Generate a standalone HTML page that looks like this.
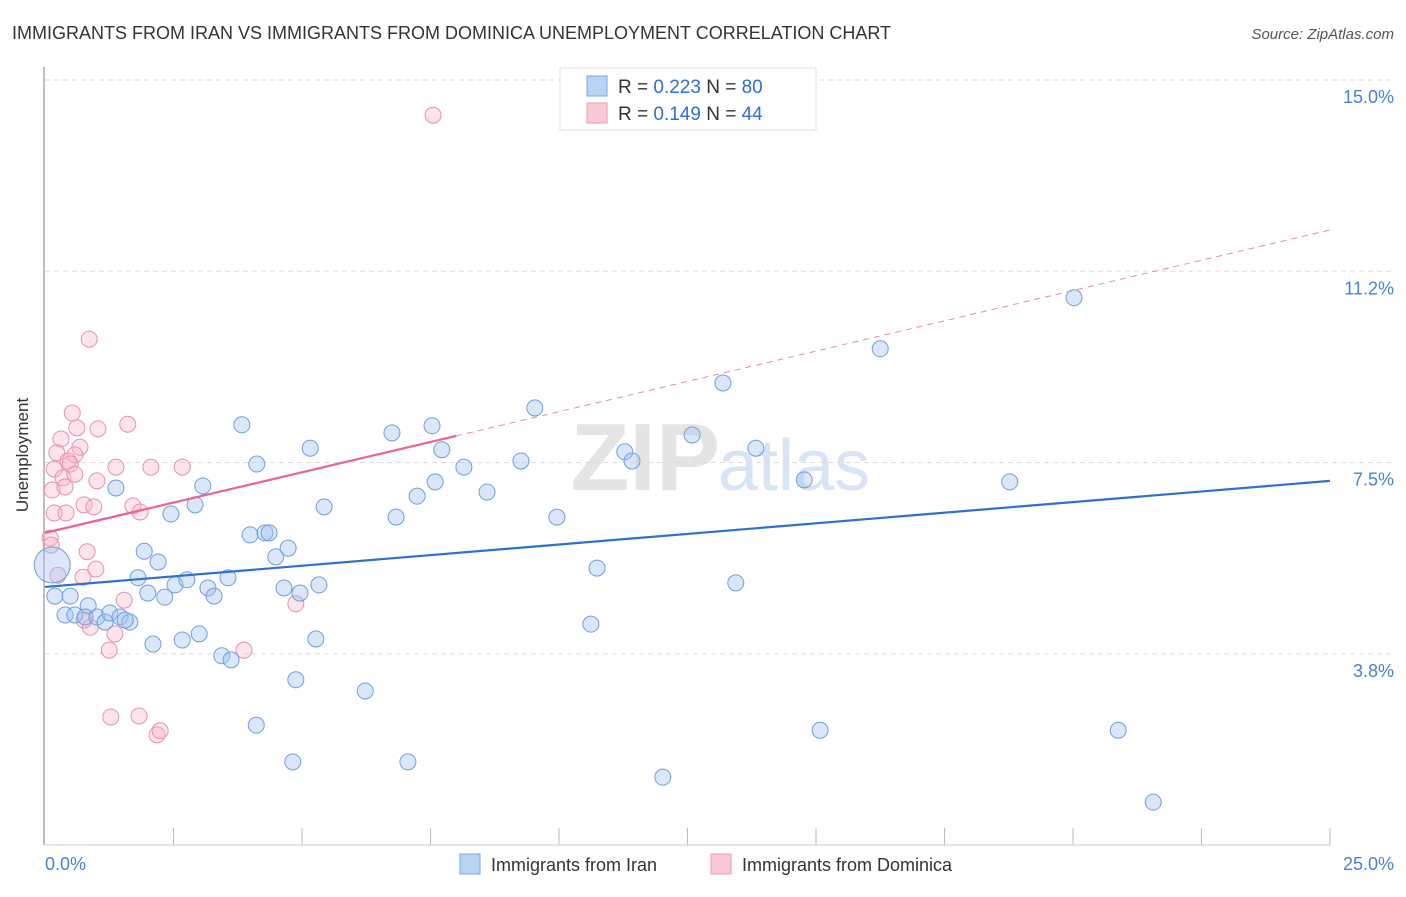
<!DOCTYPE html>
<html><head><meta charset="utf-8"><style>
body{margin:0;background:#fff;font-family:"Liberation Sans",sans-serif;}
svg text{font-family:"Liberation Sans",sans-serif;}
</style></head><body>
<svg width="1406" height="892">
<text x="12" y="39" font-size="18" fill="#333">IMMIGRANTS FROM IRAN VS IMMIGRANTS FROM DOMINICA UNEMPLOYMENT CORRELATION CHART</text>
<text x="1394" y="39" font-size="15" fill="#555" font-style="italic" text-anchor="end">Source: ZipAtlas.com</text>
<text x="720" y="490" font-size="96" fill="#e4e4e4" text-anchor="end" font-family="Liberation Serif" font-weight="bold">ZIP</text>
<text x="718" y="490" font-size="72" fill="#d6e4f5">atlas</text>
<g id="grid"></g>
<line x1="44" y1="67" x2="44" y2="845" stroke="#aaa" stroke-width="1.5"/>
<line x1="44" y1="845" x2="1330" y2="845" stroke="#ccc"/>
<text x="28" y="455" font-size="17" fill="#333" text-anchor="middle" transform="rotate(-90 28 455)">Unemployment</text>
<text x="45" y="870" font-size="18" fill="#4a7fd4">0.0%</text>
<text x="1394" y="870" font-size="18" fill="#4a7fd4" text-anchor="end">25.0%</text>
<g id="pts"></g>
<g id="lines"></g>
<g>
<rect x="560" y="68" width="256" height="62" fill="#fff" stroke="#ddd"/>
<rect x="587" y="76" width="20" height="20" fill="#b8d3f4" stroke="#7aa7e0"/>
<rect x="587" y="103" width="20" height="20" fill="#f9c9d8" stroke="#e99ab4"/>
<text x="618" y="93" font-size="19" fill="#333">R = <tspan fill="#2f6fd0">0.223</tspan>   N = <tspan fill="#2f6fd0">80</tspan></text>
<text x="618" y="120" font-size="19" fill="#333">R = <tspan fill="#2f6fd0"> 0.149</tspan>   N = <tspan fill="#2f6fd0">44</tspan></text>
</g>
<g>
<rect x="460" y="854" width="20" height="20" fill="#b8d3f4" stroke="#7aa7e0"/>
<text x="491" y="871" font-size="18" fill="#333">Immigrants from Iran</text>
<rect x="711" y="854" width="20" height="20" fill="#f9c9d8" stroke="#e99ab4"/>
<text x="742" y="871" font-size="18" fill="#333">Immigrants from Dominica</text>
</g>
</svg>
<script>
const yTicks=[15.0,11.25,7.5,3.75];
const yTickLabels=["15.0%","11.2%","7.5%","3.8%"];
const xTicks=[0,2.5,5,7.5,10,12.5,15,17.5,20,22.5,25];
const iranX=[0.14,0.19,0.49,0.39,0.58,0.84,0.78,1.01,1.17,1.26,1.46,1.65,1.56,1.38,1.81,1.93,2.00,2.10,2.20,2.33,2.45,2.53,2.67,2.76,2.92,3.00,3.07,3.17,3.29,3.44,3.56,3.62,3.83,3.99,4.12,4.11,4.28,4.36,4.49,4.65,4.73,4.82,4.88,4.96,5.16,5.27,5.33,5.43,6.23,6.75,6.83,7.06,7.24,7.53,7.59,7.72,8.15,8.60,9.26,9.53,9.96,10.62,10.74,11.28,11.42,12.02,12.59,13.19,13.44,13.83,14.77,15.08,16.25,18.77,20.02,20.88,21.56];
const iranY=[5.49,4.88,4.88,4.51,4.51,4.69,4.47,4.47,4.37,4.55,4.47,4.37,4.41,7.00,5.24,5.76,4.94,3.94,5.55,4.86,6.49,5.10,4.02,5.20,6.67,4.14,7.04,5.04,4.88,3.71,5.24,3.63,8.24,6.08,7.47,2.35,6.12,6.12,5.65,5.04,5.82,1.63,3.24,4.94,7.78,4.04,5.10,6.63,3.02,8.08,6.43,1.63,6.84,8.22,7.12,7.75,7.41,6.92,7.53,8.57,6.43,4.33,5.43,7.71,7.53,1.33,8.04,9.06,5.14,7.78,7.16,2.25,9.73,7.12,10.73,2.25,0.84];
const domX=[7.55,0.86,0.53,1.61,0.31,0.62,1.03,0.68,0.23,0.58,0.45,0.49,0.18,1.38,2.06,2.67,0.35,0.58,1.01,0.14,0.39,0.76,0.95,1.71,1.85,0.18,0.41,0.10,0.12,0.82,0.25,0.74,0.99,1.54,4.88,0.76,0.88,1.36,1.25,3.87,1.28,1.83,2.18,2.24];
const domY=[14.31,9.92,8.47,8.25,7.96,8.18,8.16,7.80,7.69,7.65,7.53,7.47,7.37,7.41,7.41,7.41,7.20,7.27,7.14,6.96,7.02,6.67,6.63,6.65,6.53,6.51,6.51,6.02,5.88,5.75,5.29,5.25,5.41,4.80,4.73,4.41,4.27,4.14,3.82,3.82,2.51,2.53,2.16,2.24];
const iranTrend=[5.06,7.14];
const domTrend=[6.12,12.06];
const domSolidEnd=8.0;
const NS="http://www.w3.org/2000/svg";
const sx=v=>45+v*51.4, sy=v=>845-v*51.0;
function mk(t,a,p){const e=document.createElementNS(NS,t);for(const k in a)e.setAttribute(k,a[k]);p.appendChild(e);return e;}
const grid=document.getElementById('grid');
yTicks.forEach((t,i)=>{
 const l=mk('line',{x1:45,x2:1394,y1:sy(t),y2:sy(t),stroke:'#ddd','stroke-dasharray':'5,4'},grid);
 
 
 const tx=mk('text',{x:1394,y:sy(t)+23,'font-size':18,fill:'#4a7fd4','text-anchor':'end'},grid);
 tx.textContent=yTickLabels[i];
 
 
});
xTicks.forEach(t=>{
 if(t===0)return;
 const l=mk('line',{x1:sx(t),x2:sx(t),y1:828,y2:845,stroke:'#bbb'},grid);
 
 
});
const pts=document.getElementById('pts');
domX.forEach((x,i)=>{
 const c=mk('circle',{cx:sx(x),cy:sy(domY[i]),r:8,fill:'rgba(246,178,200,0.35)',stroke:'#e890ae','stroke-width':1},pts);
 
 
});
iranX.forEach((x,i)=>{
 const c=mk('circle',{cx:sx(x),cy:sy(iranY[i]),r:i===0?18:8,fill:'rgba(160,196,240,0.4)',stroke:'#6e9fdc','stroke-width':1},pts);
 
 
});
const lines=document.getElementById('lines');
const dAt=x=>domTrend[0]+(domTrend[1]-domTrend[0])*x/25;
let l=mk('line',{x1:sx(domSolidEnd),y1:sy(dAt(domSolidEnd)),x2:sx(25),y2:sy(domTrend[1]),stroke:'#e98aab','stroke-width':1,'stroke-dasharray':'6,5'},lines);


l=mk('line',{x1:sx(0),y1:sy(domTrend[0]),x2:sx(domSolidEnd),y2:sy(dAt(domSolidEnd)),stroke:'#e8658f','stroke-width':2.2},lines);


l=mk('line',{x1:sx(0),y1:sy(iranTrend[0]),x2:sx(25),y2:sy(iranTrend[1]),stroke:'#2f6fd0','stroke-width':2.2},lines);


</script>
</body></html>
